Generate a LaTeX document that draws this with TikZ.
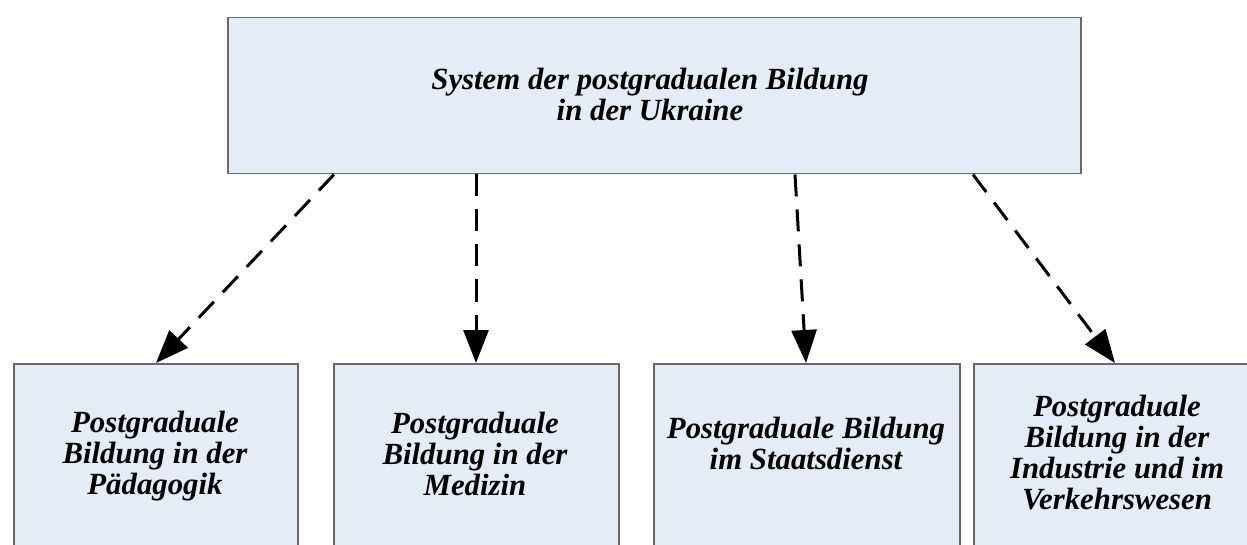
\documentclass[tikz,border=0pt]{standalone}
\usepackage{fontspec}
\setmainfont{Liberation Serif}
\usetikzlibrary{arrows.meta}
\definecolor{boxfill}{RGB}{230,236,246}
\definecolor{boxline}{RGB}{105,105,105}
\newcommand{\firstline}{\rule{0pt}{22pt}}
\tikzset{
  panel/.style={draw=boxline, line width=1.5pt, fill=boxfill, anchor=north west,
    inner sep=0pt},
  label/.style={font=\bfseries\itshape\fontsize{30.8}{31}\selectfont,
    align=center, inner sep=0pt, anchor=north},
  link/.style={draw=black, line width=3pt, dash pattern=on 22pt off 13pt,
    -{Triangle[length=33pt,width=25pt]}}
}
\begin{document}
\begin{tikzpicture}[x=1pt,y=-1pt]
  \useasboundingbox (0,0) rectangle (1247,545);
  \clip (0,0) rectangle (1247,545);

  % boxes
  \node[panel, minimum width=853pt, minimum height=156pt] (top) at (227,17) {};
  \node[panel, minimum width=284pt, minimum height=200pt] (b1) at (13,363) {};
  \node[panel, minimum width=285pt, minimum height=200pt] (b2) at (333,363) {};
  \node[panel, minimum width=306pt, minimum height=200pt] (b3) at (653,363) {};
  \node[panel, minimum width=290pt, minimum height=200pt] (b4) at (973,363) {};

  % texts
  \node[label] (ttop) at (650,67) {\firstline System der postgradualen Bildung\\ in der Ukraine};
  \node[label] (t1) at (155,410) {\firstline Postgraduale\\ Bildung in der\\ Pädagogik};
  \node[label] (t2) at (475,411) {\firstline Postgraduale\\ Bildung in der\\ Medizin};
  \node[label] (t3) at (806,416) {\firstline Postgraduale Bildung\\ im Staatsdienst};
  \node[label] (t4) at (1117,394) {\firstline Postgraduale\\ Bildung in der\\ Industrie und im\\ Verkehrswesen};

  % connectors
  \draw[link] ([xshift=107pt]top.south west) -- ([xshift=143pt]b1.north west);
  \draw[link] ([xshift=249pt]top.south west) -- ([xshift=143pt]b2.north west);
  \draw[link] ([xshift=568pt]top.south west) -- ([xshift=153pt]b3.north west);
  \draw[link] ([xshift=746pt]top.south west) -- ([xshift=142pt]b4.north west);
\end{tikzpicture}
\end{document}
